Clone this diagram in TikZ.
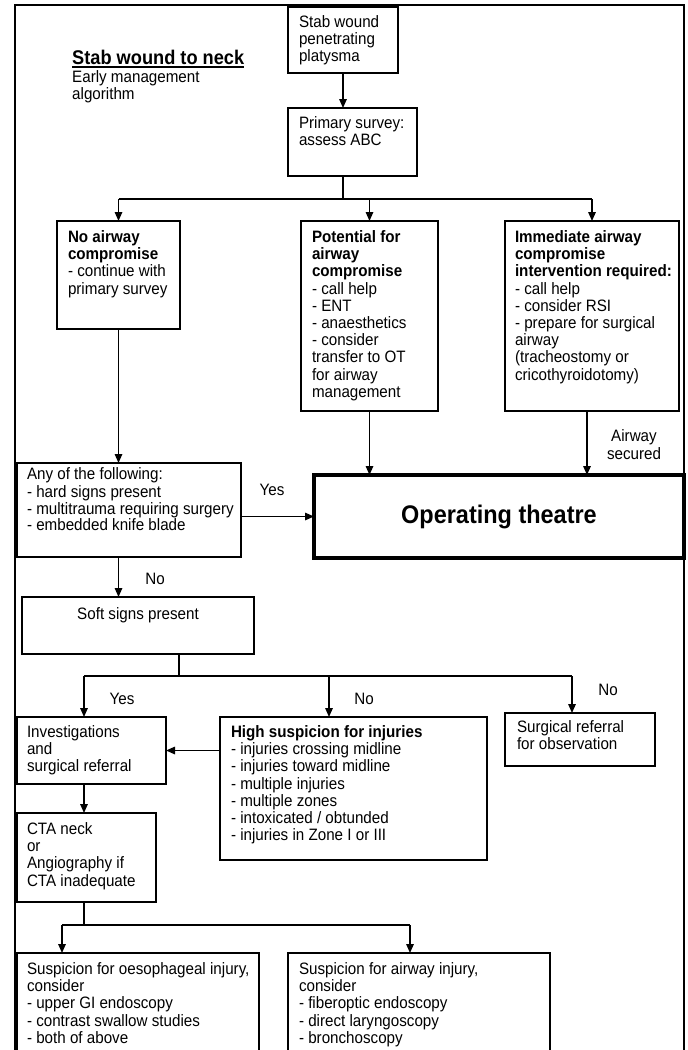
\documentclass[tikz,border=0pt]{standalone}
\usepackage{fontspec}
\setmainfont[FakeStretch=0.92]{Liberation Sans}
\usetikzlibrary{arrows.meta}
\newcommand\fs{\fontsize{16.5pt}{17.2pt}\selectfont}
% width, height, toppad, leftpad, text
\newcommand\bt[5]{\begin{minipage}[c][#2pt][t]{#1pt}\vspace*{#3pt}\leftskip=#4pt\rightskip=0pt plus 1fil\parfillskip=0pt plus 1fil\relax\strut#5\end{minipage}}
\newcommand\btc[4]{\begin{minipage}[c][#2pt][t]{#1pt}\vspace*{#3pt}\centering\strut#4\end{minipage}}
\begin{document}
\begin{tikzpicture}[x=1pt,y=-1pt,
  bx/.style={draw, line width=1.5pt, anchor=north west, inner sep=0pt, outer sep=0pt, font=\fs},
  ln/.style={line width=1.5pt},
  arr/.style={line width=1.5pt, -{Triangle[length=9pt,width=7.5pt]}},
  lbl/.style={font=\fs, anchor=base, inner sep=0pt}]
\useasboundingbox (0,0) rectangle (688,1050);
\clip (0,0) rectangle (688,1050);
\fill[white] (0,0) rectangle (688,1050);
% outer frame
\draw[line width=2pt] (15,1070) -- (15,5) -- (684,5) -- (684,1070);
% title
\node[anchor=base west, inner sep=0pt, font=\bfseries\fontsize{19.8pt}{20pt}\selectfont] (title) at (72,64) {Stab wound to neck};
\draw[line width=1.5pt] ([yshift=-3pt]title.base west) -- ([yshift=-3pt]title.base east);
\node[anchor=base west, inner sep=0pt, font=\fs] (sub1) at (72,82.8) {Early management};
\node[anchor=base west, inner sep=0pt, font=\fs] (sub2) at (72,99.5) {algorithm};
% boxes
\node[bx] (A) at (288,7) {\bt{110}{66}{8.5}{11}{Stab wound\\penetrating\\platysma}};
\node[bx] (B) at (288,108) {\bt{129}{68}{8.5}{11}{Primary survey:\\assess ABC}};
\node[bx] (C) at (57,221) {\bt{123}{108}{9.5}{11}{\textbf{No airway}\\\textbf{compromise}\\- continue with\\primary survey}};
\node[bx] (D) at (301,221) {\bt{137}{190}{9.5}{11}{\textbf{Potential for}\\\textbf{airway}\\\textbf{compromise}\\- call help\\- ENT\\- anaesthetics\\- consider\\transfer to OT\\for airway\\management}};
\node[bx] (E) at (505,221) {\bt{174}{190}{9.5}{10}{\textbf{Immediate airway}\\\textbf{compromise}\\\textbf{intervention required:}\\- call help\\- consider RSI\\- prepare for surgical\\airway\\(tracheostomy or\\cricothyroidotomy)}};
\node[bx] (F) at (17,463) {\bt{224}{94}{4.5}{10}{\baselineskip=16.5pt Any of the following:\\- hard signs present\\- multitrauma requiring surgery\\- embedded knife blade}};
\node[bx, line width=4.5pt, minimum width=370pt, minimum height=83pt, font=\bfseries\fontsize{25.5pt}{26pt}\selectfont] (OT) at (314,475) {Operating theatre};
\node[bx] (S) at (22,597) {\btc{232}{57}{10.5}{Soft signs present}};
\node[bx] (I) at (17,717) {\bt{149}{67}{8.5}{10}{Investigations\\and\\surgical referral}};
\node[bx] (H) at (220,717) {\bt{267}{143}{8.5}{11}{\textbf{High suspicion for injuries}\\- injuries crossing midline\\- injuries toward midline\\- multiple injuries\\- multiple zones\\- intoxicated / obtunded\\- injuries in Zone I or III}};
\node[bx] (R) at (505,713) {\bt{150}{53}{7.5}{12}{Surgical referral\\for observation}};
\node[bx] (T) at (17,813) {\bt{139}{89}{9.5}{10}{CTA neck\\or\\Angiography if\\CTA inadequate}};
\node[bx] (L) at (17,953) {\bt{242}{120}{9.5}{10}{Suspicion for oesophageal injury,\\consider\\- upper GI endoscopy\\- contrast swallow studies\\- both of above}};
\node[bx] (W) at (288,953) {\bt{262}{120}{9.5}{11}{Suspicion for airway injury,\\consider\\- fiberoptic endoscopy\\- direct laryngoscopy\\- bronchoscopy}};
% labels
\node[lbl] (as1) at (634,441.5) {Airway};
\node[lbl] (as2) at (634,459.5) {secured};
\node[lbl] (yes1) at (272,495.5) {Yes};
\node[lbl] (no1) at (155,584.5) {No};
\node[lbl] (yes2) at (122,704.5) {Yes};
\node[lbl] (no2) at (364,704.5) {No};
\node[lbl] (no3) at (608,695.5) {No};
% junction coordinates
\coordinate (j1) at (343,199);
\coordinate (j2) at (179,676);
\coordinate (k1) at (84,676);
\coordinate (k2) at (329,676);
\coordinate (k3) at (572,676);
\coordinate (m0) at (84,925);
\coordinate (m1) at (62,925);
\coordinate (m2) at (410,925);
% connectors
\draw[arr] (A.south) -- (A.south |- B.north);
\draw[ln] (A.south |- B.south) -- (j1);
\draw[ln] (C.north |- j1) -- (E.north |- j1);
\draw[arr] (C.north |- j1) -- (C.north);
\draw[arr] (D.north |- j1) -- (D.north);
\draw[arr] (E.north |- j1) -- (E.north);
\draw[arr] (C.south) -- (C.south |- F.north);
\draw[arr] (D.south) -- (D.south |- OT.north);
\draw[arr] ([xshift=-5pt]E.south) -- ([xshift=-5pt]E.south |- OT.north);
\draw[arr] (F.east |- OT.center) -- (OT.west);
\draw[arr] (C.south |- F.south) -- (C.south |- S.north);
\draw[ln] (j2 |- S.south) -- (j2);
\draw[ln] (k1) -- (k3);
\draw[arr] (k1) -- (k1 |- I.north);
\draw[arr] (k2) -- (k2 |- H.north);
\draw[arr] (k3) -- (k3 |- R.north);
\draw[arr] (H.west |- I.center) -- (I.east);
\draw[arr] (k1 |- I.south) -- (k1 |- T.north);
\draw[ln] (k1 |- T.south) -- (m0);
\draw[ln] (m1) -- (m2);
\draw[arr] (m1) -- (m1 |- L.north);
\draw[arr] (m2) -- (m2 |- W.north);
\end{tikzpicture}
\end{document}
